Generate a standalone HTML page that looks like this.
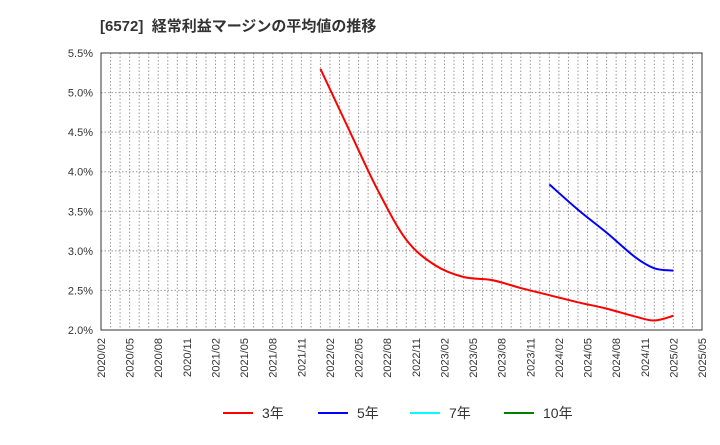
<!DOCTYPE html>
<html><head><meta charset="utf-8"><style>
body{margin:0;background:#fff;font-family:"Liberation Sans","Noto Sans CJK JP",sans-serif;}
</style></head><body>
<svg id="c" width="720" height="440" xmlns="http://www.w3.org/2000/svg" font-family="Liberation Sans, Noto Sans CJK JP, sans-serif">
<text x="100" y="31" font-size="15" font-weight="bold" fill="#333">[6572]&#160;&#160;経常利益マージンの平均値の推移</text>
<g id="grid"></g><g id="axes"></g><g id="series"></g>
<g font-size="14" fill="#333">
<line x1="223" y1="413" x2="253" y2="413" stroke="#ff0000" stroke-width="2"/><text x="262" y="418">3年</text>
<line x1="318" y1="413" x2="348" y2="413" stroke="#0000ff" stroke-width="2"/><text x="357" y="418">5年</text>
<line x1="410" y1="413" x2="440" y2="413" stroke="#00ffff" stroke-width="2"/><text x="449" y="418">7年</text>
<line x1="504" y1="413" x2="534" y2="413" stroke="#008000" stroke-width="2"/><text x="543" y="418">10年</text>
</g>
</svg>
<script>
const xTickLabels=["2020/02","2020/05","2020/08","2020/11","2021/02","2021/05","2021/08","2021/11","2022/02","2022/05","2022/08","2022/11","2023/02","2023/05","2023/08","2023/11","2024/02","2024/05","2024/08","2024/11","2025/02","2025/05"];
const yTicks=[2.0,2.5,3.0,3.5,4.0,4.5,5.0,5.5];
// month index from 2020/02
const red3Months=[23,26,29,32,35,38,41,44,47,50,53,56,58,60];
const red3Values=[5.30,4.53,3.77,3.14,2.82,2.67,2.63,2.53,2.44,2.35,2.27,2.17,2.12,2.18];
const blue5Months=[47,50,53,56,58,60];
const blue5Values=[3.84,3.52,3.23,2.92,2.78,2.75];
const L=101,R=702,T=53,B=330;
const xs=m=>L+(R-L)*m/63;
const ys=v=>B-(v-2.0)/3.5*(B-T);
const NS="http://www.w3.org/2000/svg";
function mk(t,a,p){const e=document.createElementNS(NS,t);for(const k in a)e.setAttribute(k,a[k]);p.appendChild(e);return e;}
const grid=document.getElementById('grid'),axes=document.getElementById('axes'),ser=document.getElementById('series');
for(let m=0;m<=63;m++){const g=mk('line',{x1:xs(m),x2:xs(m),y1:T,y2:B,stroke:'#999','stroke-dasharray':'1.5,2','stroke-width':1},grid);

}
yTicks.forEach(v=>{const g=mk('line',{x1:L,x2:R,y1:ys(v),y2:ys(v),stroke:'#999','stroke-dasharray':'1.5,2'},grid);


const t=mk('text',{x:L-8,y:ys(v)+4,'text-anchor':'end','font-size':11,fill:'#333'},axes);t.textContent=v.toFixed(1)+'%';

});
xTickLabels.forEach((s,i)=>{const x=xs(i*3);const t=mk('text',{x:x+4,y:B+8,'text-anchor':'end','font-size':11,fill:'#333',transform:`rotate(-90 ${x+4} ${B+8})`},axes);t.textContent=s;

});
const fr=mk('rect',{x:L,y:T,width:R-L,height:B-T,fill:'none',stroke:'#333'},axes);


function path(ms,vs){const p=ms.map((m,i)=>[xs(m),ys(vs[i])]);let d=`M${p[0][0]},${p[0][1]}`;
for(let i=0;i<p.length-1;i++){const p0=p[Math.max(0,i-1)],p1=p[i],p2=p[i+1],p3=p[Math.min(p.length-1,i+2)];
d+=` C${p1[0]+(p2[0]-p0[0])/6},${p1[1]+(p2[1]-p0[1])/6} ${p2[0]-(p3[0]-p1[0])/6},${p2[1]-(p3[1]-p1[1])/6} ${p2[0]},${p2[1]}`;}return d;}
const r=mk('path',{d:path(red3Months,red3Values),fill:'none',stroke:'#ff0000','stroke-width':2},ser);


const b=mk('path',{d:path(blue5Months,blue5Values),fill:'none',stroke:'#0000ff','stroke-width':2},ser);


</script>
</body></html>
